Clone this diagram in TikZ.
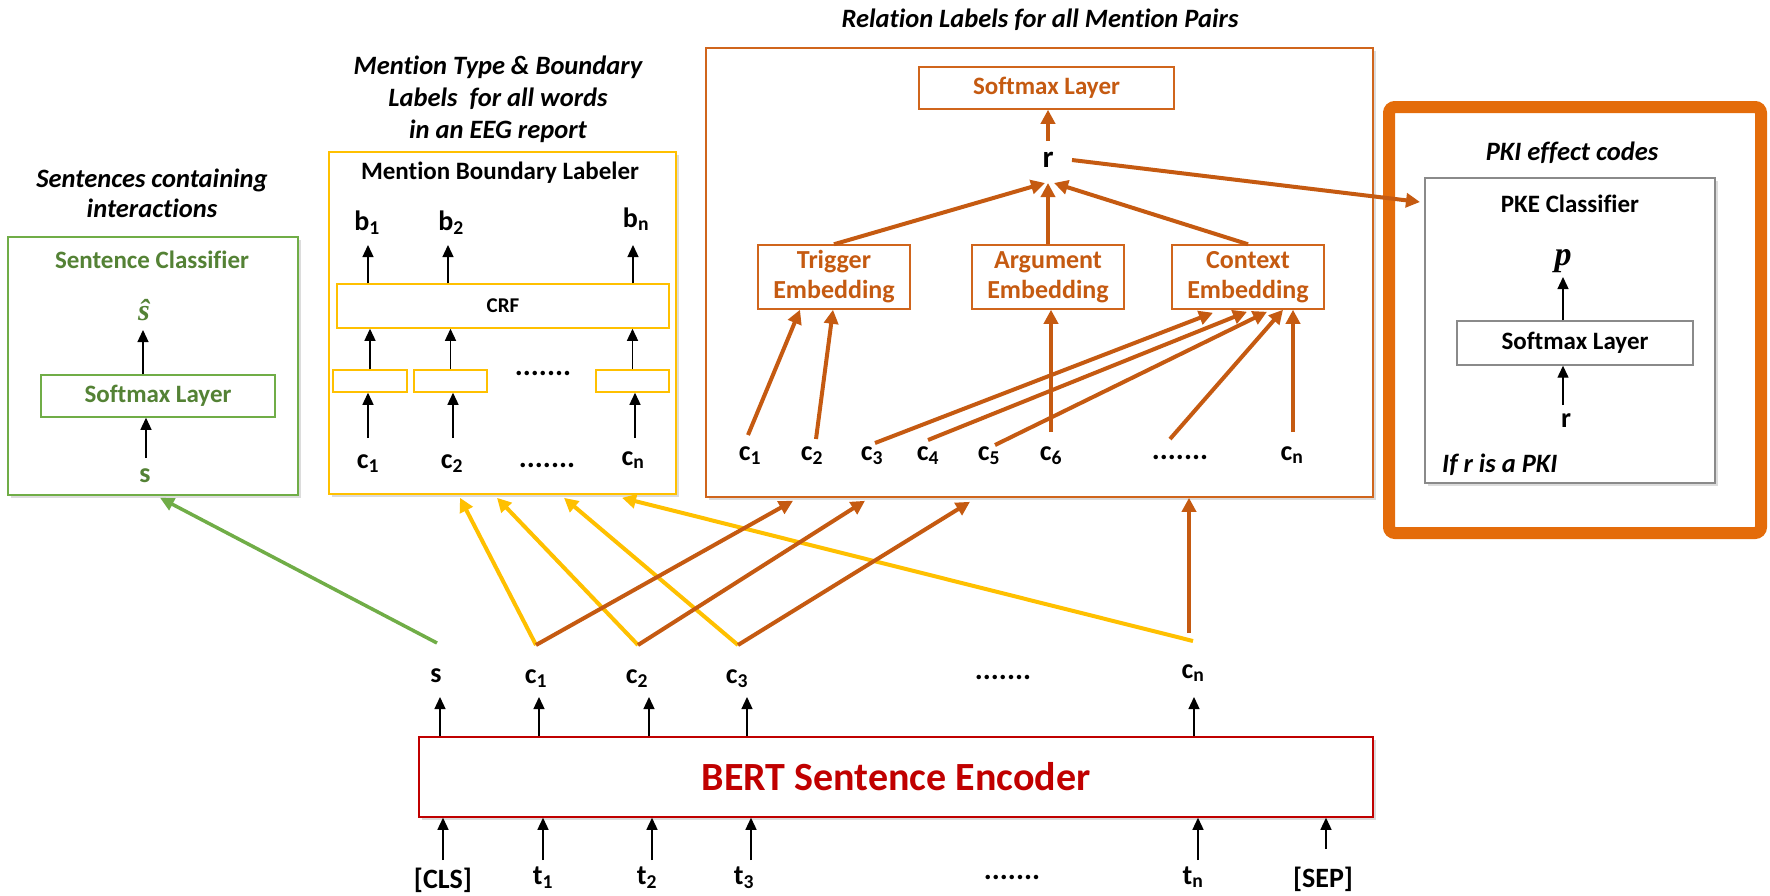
\documentclass[tikz,border=0pt]{standalone}
\usepackage{fontspec}
\setmainfont{Carlito}[Ligatures=NoCommon]
\newfontfamily\mathserif{Liberation Serif}
\usetikzlibrary{arrows.meta,shadows}

\definecolor{clsgreen}{HTML}{70AD47}
\definecolor{clsgreentext}{HTML}{548235}
\definecolor{labgold}{HTML}{FFC000}
\definecolor{relrust}{HTML}{C55A11}
\definecolor{relframe}{HTML}{D0651C}
\definecolor{pkiorange}{HTML}{E46C0A}
\definecolor{bertred}{HTML}{C00000}
\definecolor{pkegray}{HTML}{8A8A8A}

\newcommand{\pxfont}[1]{\fontsize{#1}{#1}\selectfont}

\tikzset{
  panel/.style={draw, fill=white, inner sep=0pt, line width=1.6pt,
    drop shadow={shadow xshift=3pt, shadow yshift=-3pt, opacity=0.28}},
  layer/.style={draw, fill=white, inner sep=0pt, line width=1.5pt},
  lbl/.style={inner sep=0pt, anchor=base, font=\pxfont{28}\bfseries},
  heading/.style={inner sep=0pt, anchor=base, font=\pxfont{25}\bfseries},
  caption/.style={inner sep=0pt, anchor=base, font=\pxfont{26.5}\bfseries\itshape},
  dotrow/.style={inner sep=0pt, anchor=base, font=\pxfont{30}\bfseries},
  barr/.style={-{Triangle[length=12pt,width=11pt]}, line width=1.3pt, black},
  rarr/.style={-{Triangle[length=14pt,width=14pt]}, line width=4pt, relrust},
  yarr/.style={-{Triangle[length=14pt,width=14pt]}, line width=4pt, labgold},
  garr/.style={-{Triangle[length=14pt,width=13pt]}, line width=3.5pt, clsgreen},
}

\begin{document}
\begin{tikzpicture}[x=1pt,y=-1pt]
\useasboundingbox (0,0) rectangle (1770,895);

% ---------------- sentence classifier ----------------
\node[caption] at (152,187) {Sentences containing};
\node[caption] at (152,217) {interactions};
\node[panel, draw=clsgreen, minimum width=290pt, minimum height=258pt] (scbox) at (153,366) {};
\node[heading, text=clsgreentext] (sctitle) at (152,268) {Sentence Classifier};
\node[inner sep=0pt, anchor=base, font=\mathserif\pxfont{30}\bfseries\itshape, text=clsgreentext] (shat) at (144,320) {ŝ};
\node[layer, draw=clsgreen, minimum width=234pt, minimum height=42pt, font=\pxfont{25}\bfseries, text=clsgreentext] (scsoft) at (158,396) {Softmax Layer};
\node[lbl, text=clsgreentext] (sin) at (145,482) {s};
\coordinate (shatfoot) at (143,330);
\coordinate (sinhead) at (146,458);
\draw[barr] (scsoft.north -| shatfoot) -- (shatfoot);
\draw[barr] (sinhead) -- (scsoft.south -| sinhead);

% ---------------- mention boundary labeler ----------------
\node[caption] at (498,74) {Mention Type \& Boundary};
\node[caption] at (498,106) {Labels\ \ for all words};
\node[caption] at (498,138) {in an EEG report};
\node[panel, draw=labgold, minimum width=347pt, minimum height=342pt] (mbl) at (502.5,323) {};
\node[heading] (mbltitle) at (500,179) {Mention Boundary Labeler};
\node[lbl] (b1) at (367,230) {b\textsubscript{1}};
\node[lbl] (b2) at (451,230) {b\textsubscript{2}};
\node[lbl] (bn) at (636,227) {b\textsubscript{n}};
\node[layer, draw=labgold, minimum width=332pt, minimum height=44pt, font=\pxfont{21}\bfseries] (crf) at (503,306) {CRF};
\node[layer, draw=labgold, minimum width=74pt, minimum height=22pt] (sb1) at (370,381) {};
\node[layer, draw=labgold, minimum width=73pt, minimum height=22pt] (sb2) at (450.5,381) {};
\node[layer, draw=labgold, minimum width=73pt, minimum height=22pt] (sb3) at (632.5,381) {};
\node[dotrow] (sbdots) at (543,375) {.......};
\node[lbl] (mc1) at (368,468) {c\textsubscript{1}};
\node[lbl] (mc2) at (452,468) {c\textsubscript{2}};
\node[dotrow] (mcdots) at (547,467) {.......};
\node[lbl] (mcn) at (633,465) {c\textsubscript{n}};
\coordinate (mh1) at (368,438);
\coordinate (mh2) at (453,438);
\coordinate (mh3) at (635,438);
\draw[barr] (mh1) -- (sb1.south -| mh1);
\draw[barr] (mh2) -- (sb2.south -| mh2);
\draw[barr] (mh3) -- (sb3.south -| mh3);
\draw[barr] (sb1.north) -- (crf.south -| sb1.north);
\draw[barr] (sb2.north) -- (crf.south -| sb2.north);
\draw[barr] (sb3.north) -- (crf.south -| sb3.north);
\coordinate (bf1) at (368,245);
\coordinate (bf2) at (448,245);
\coordinate (bf3) at (633,245);
\draw[barr] (crf.north -| bf1) -- (bf1);
\draw[barr] (crf.north -| bf2) -- (bf2);
\draw[barr] (crf.north -| bf3) -- (bf3);

% ---------------- relation classifier ----------------
\node[caption] at (1040,27) {Relation Labels for all Mention Pairs};
\node[panel, draw=relframe, minimum width=667pt, minimum height=449pt] (rel) at (1039.5,272.5) {};
\node[layer, draw=relframe, minimum width=255pt, minimum height=42pt, font=\pxfont{25}\bfseries, text=relrust] (relsoft) at (1046.5,88) {Softmax Layer};
\node[inner sep=0pt, anchor=base, font=\pxfont{31}\bfseries] (r) at (1048,167) {r};
\tikzset{embed/.style={layer, draw=relframe, text=relrust, align=center,
  font=\fontsize{26}{30}\selectfont\bfseries, minimum width=152pt, minimum height=64pt}}
\node[embed] (trig) at (834,277) {Trigger\\Embedding};
\node[embed] (arg) at (1048,277) {Argument\\Embedding};
\node[embed] (ctx) at (1248,277) {Context\\Embedding};
\coordinate (rfoot) at (1048,183);
\coordinate (rhead) at (1048,141);
\draw[rarr] (trig.north) -- ([xshift=-3pt]rfoot);
\draw[rarr] (arg.north) -- (rfoot);
\draw[rarr] (ctx.north) -- ([xshift=6pt]rfoot);
\draw[rarr] (rhead) -- (relsoft.south -| rhead);

\node[lbl] (rc1) at (750,460) {c\textsubscript{1}};
\node[lbl] (rc2) at (812,460) {c\textsubscript{2}};
\node[lbl] (rc3) at (872,460) {c\textsubscript{3}};
\node[lbl] (rc4) at (928,460) {c\textsubscript{4}};
\node[lbl] (rc5) at (989,460) {c\textsubscript{5}};
\node[lbl] (rc6) at (1051,460) {c\textsubscript{6}};
\node[dotrow] (rcdots) at (1180,459) {.......};
\node[lbl] (rcn) at (1292,460) {c\textsubscript{n}};
\coordinate (rt1) at (748,435);
\coordinate (rt2) at (816,439);
\coordinate (rt3) at (875,443);
\coordinate (rt4) at (928,440);
\coordinate (rt5) at (995,445);
\coordinate (rt6) at (1051,432);
\coordinate (rtd) at (1170,439);
\coordinate (rtn) at (1293,432);
\draw[rarr] (rt1) -- ([xshift=-34pt]trig.south);
\draw[rarr] (rt2) -- ([xshift=-1pt]trig.south);
\draw[rarr] (rt3) -- ([xshift=-35pt,yshift=-3pt]ctx.south);
\draw[rarr] (rt4) -- ([xshift=-1pt,yshift=-2pt]ctx.south);
\draw[rarr] (rt5) -- ([xshift=19pt,yshift=-2pt]ctx.south);
\draw[rarr] (rtd) -- ([xshift=35pt]ctx.south);
\draw[rarr] (rtn) -- ([xshift=45pt]ctx.south);
\draw[rarr] (rt6) -- ([xshift=3pt]arg.south);

% ---------------- PKI effect classifier ----------------
\node[draw=pkiorange, line width=12pt, rounded corners=6pt, inner sep=0pt,
  minimum width=372pt, minimum height=426pt] (pki) at (1575,320) {};
\node[caption] at (1572,160) {PKI effect codes};
\node[panel, draw=pkegray, line width=1.4pt, minimum width=290pt, minimum height=305pt] (pke) at (1570,330.5) {};
\node[heading] (pketitle) at (1570,212) {PKE Classifier};
\node[inner sep=0pt, anchor=base, font=\mathserif\pxfont{34}\bfseries\itshape] (p) at (1563,265) {p};
\node[layer, draw=pkegray, line width=1.4pt, minimum width=236pt, minimum height=44pt, font=\pxfont{25}\bfseries] (pkesoft) at (1575,343) {Softmax Layer};
\node[lbl] (pr) at (1566,427) {r};
\node[caption, anchor=base west] (ifpki) at (1442,472) {If r is a PKI};
\coordinate (pfoot) at (1563,277);
\coordinate (prhead) at (1563,405);
\draw[barr] (pkesoft.north -| pfoot) -- (pfoot);
\draw[barr] (prhead) -- (pkesoft.south -| prhead);
\coordinate (rtail) at (1072,160);
\coordinate (pkein) at (1420,202);
\draw[rarr] (rtail) -- (pkein);

% ---------------- BERT encoder ----------------
\node[panel, draw=bertred, line width=1.5pt, minimum width=954pt, minimum height=80pt,
  font=\pxfont{40}\bfseries, text=bertred] (bert) at (896,777) {BERT Sentence Encoder};
\node[lbl] (os) at (436,682) {s};
\node[lbl] (oc1) at (536,683) {c\textsubscript{1}};
\node[lbl] (oc2) at (637,683) {c\textsubscript{2}};
\node[lbl] (oc3) at (737,683) {c\textsubscript{3}};
\node[dotrow] (odots) at (1003,679) {.......};
\node[lbl] (ocn) at (1193,678) {c\textsubscript{n}};
\coordinate (oh0) at (440,697);
\coordinate (oh1) at (539,697);
\coordinate (oh2) at (649,697);
\coordinate (oh3) at (747,697);
\coordinate (ohn) at (1194,697);
\foreach \h in {oh0,oh1,oh2,oh3,ohn} \draw[barr] (bert.north -| \h) -- (\h);

\node[lbl] (cls) at (443,888) {[CLS]};
\node[lbl] (t1) at (543,884) {t\textsubscript{1}};
\node[lbl] (t2) at (647,884) {t\textsubscript{2}};
\node[lbl] (t3) at (744,884) {t\textsubscript{3}};
\node[dotrow] (idots) at (1012,879) {.......};
\node[lbl] (tn) at (1193,884) {t\textsubscript{n}};
\node[lbl] (sep) at (1323,887) {[SEP]};
\coordinate (it0) at (443,860);
\coordinate (it1) at (543,860);
\coordinate (it2) at (652,860);
\coordinate (it3) at (751,860);
\coordinate (itn) at (1198,860);
\coordinate (itsep) at (1326,849);
\foreach \t in {it0,it1,it2,it3,itn,itsep} \draw[barr] (\t) -- (bert.south -| \t);

% ---------------- encoder outputs to the task heads ----------------
\coordinate (js) at (437,643);
\coordinate (jc1) at (536,645);
\coordinate (jc2) at (638,645);
\coordinate (jc3) at (738,645);
\coordinate (jcn) at (1193,641);
\coordinate (jcno) at (1189,633);
\draw[garr] (js) -- ([xshift=7pt,yshift=-2pt]scbox.south);
\draw[yarr] (jc1) -- ([xshift=-42.5pt,yshift=-3pt]mbl.south);
\draw[yarr] (jc2) -- ([xshift=-5.5pt,yshift=-3pt]mbl.south);
\draw[yarr] (jc3) -- ([xshift=61.5pt,yshift=-3pt]mbl.south);
\draw[yarr] (jcn) -- ([xshift=119.5pt,yshift=-3pt]mbl.south);
\draw[rarr] (jc1) -- ([xshift=-246.5pt,yshift=-3pt]rel.south);
\draw[rarr] (jc2) -- ([xshift=-174.5pt,yshift=-3pt]rel.south);
\draw[rarr] (jc3) -- ([xshift=-69.5pt,yshift=-4pt]rel.south);
\draw[rarr] (jcno) -- (rel.south -| jcno);
\end{tikzpicture}
\end{document}
